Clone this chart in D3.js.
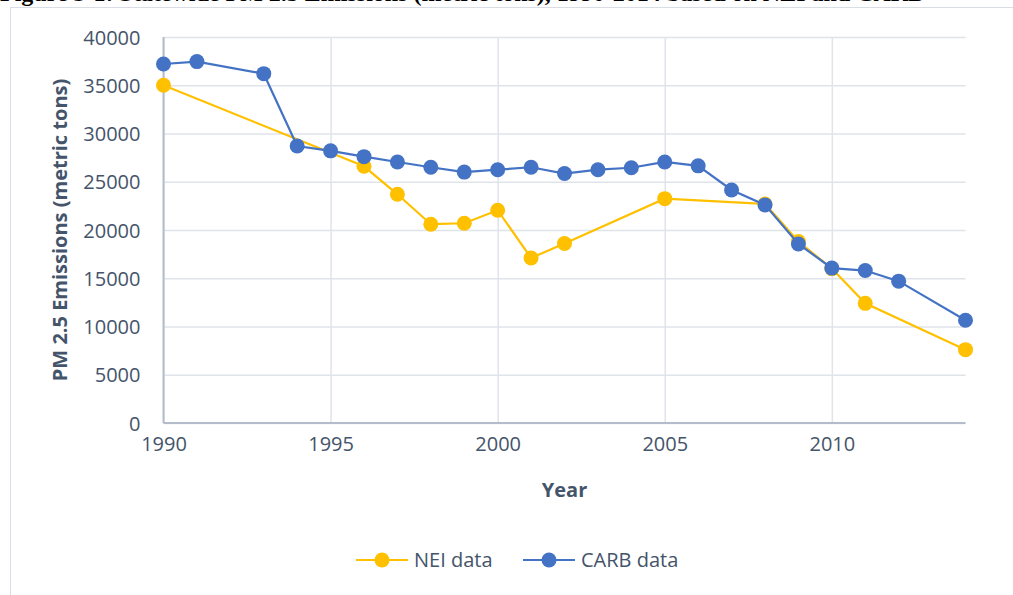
<!DOCTYPE html>
<html>
<head>
<meta charset="utf-8">
<script src="https://cdn.jsdelivr.net/npm/d3@7"></script>
<style>
  body { margin: 0; background: #fff; }
  text { font-family: "Open Sans", sans-serif; fill: #44546a; }
</style>
</head>
<body>
<div id="chart_div"></div>
<script>
// NEI data points (years with no marker are simply not in the list)
var neiYears  = [1990, 1996, 1997, 1998, 1999, 2000, 2001, 2002, 2005, 2008, 2009, 2010, 2011, 2014];
var neiValues = [35000, 26600, 23700, 20600, 20700, 22050, 17100, 18600, 23250, 22700, 18800, 16000, 12400, 7600];

// CARB data points
var carbYears  = [1990, 1991, 1993, 1994, 1995, 1996, 1997, 1998, 1999, 2000, 2001, 2002, 2003, 2004, 2005, 2006, 2007, 2008, 2009, 2010, 2011, 2012, 2014];
var carbValues = [37200, 37450, 36200, 28700, 28200, 27600, 27050, 26500, 26000, 26250, 26500, 25850, 26250, 26450, 27050, 26650, 24150, 22600, 18550, 16050, 15800, 14700, 10650];

var yTicks = [0, 5000, 10000, 15000, 20000, 25000, 30000, 35000, 40000];
var xTicks = [1990, 1995, 2000, 2005, 2010];

var seriesList = [
	{'name':'NEI data', 'color':'#ffc000', 'years':neiYears, 'values':neiValues},
	{'name':'CARB data','color':'#4472c4', 'years':carbYears, 'values':carbValues}
];

var width = 1013, height = 595;
var svg = d3.select("#chart_div")
			.append("svg")
			.attr("width", width)
			.attr("height", height);

// caption of the document, cut off at the top of the picture (as in the source page)
svg.append("text")
	.attr("x", 0)
	.attr("y", 1)
	.style("font-family", "'Liberation Serif', serif")
	.style("font-weight", "bold")
	.style("font-size", "24px")
	.style("fill", "#000")
	.text("Figure 3-1: Statewide PM 2.5 Emissions (metric tons), 1990-2014 based on NEI and CARB");

// chart area border
svg.append("rect")
	.attr("x", 10.5)
	.attr("y", 7.5)
	.attr("width", 1100)
	.attr("height", 700)
	.style("fill", "#fff")
	.style("stroke", "#d9dee6");

var x = d3.scaleLinear().domain([1990, 2014]).range([163.5, 965.5]);
var y = d3.scaleLinear().domain([0, 40000]).range([423, 37]);

// horizontal gridlines + y labels
var yAxis = svg.append("g")
	.attr("transform", "translate(" + x(1990) + ",0)")
	.call(d3.axisLeft(y).tickValues(yTicks).tickSize(-(x(2014) - x(1990))).tickPadding(23).tickFormat(d3.format("d")));
yAxis.select(".domain").remove();
yAxis.selectAll(".tick line").style("stroke", "#dfe3ea").style("stroke-width", 1.5);
yAxis.selectAll(".tick text").style("font-size", "20px").style("fill", "#44546a").attr("dy", "0.35em");

// vertical gridlines + x labels
var xAxis = svg.append("g")
	.attr("transform", "translate(0," + y(0) + ")")
	.call(d3.axisBottom(x).tickValues(xTicks).tickSize(-(y(0) - y(40000))).tickPadding(14).tickFormat(d3.format("d")));
xAxis.select(".domain").remove();
xAxis.selectAll(".tick line").style("stroke", "#dfe3ea").style("stroke-width", 1.5);
xAxis.selectAll(".tick text").style("font-size", "20px").style("fill", "#44546a");

// axis lines
svg.append("line")
	.attr("x1", x(1990)).attr("x2", x(1990))
	.attr("y1", y(40000)).attr("y2", y(0))
	.style("stroke", "#b4bccb").style("stroke-width", 2);
svg.append("line")
	.attr("x1", x(1990)).attr("x2", x(2014))
	.attr("y1", y(0)).attr("y2", y(0))
	.style("stroke", "#b4bccb").style("stroke-width", 2);

// axis titles
svg.append("text")
	.attr("transform", "translate(67," + ((y(0) + y(40000)) / 2) + ") rotate(-90)")
	.attr("text-anchor", "middle")
	.style("font-size", "20px")
	.style("font-weight", "bold")
	.text("PM 2.5 Emissions (metric tons)");

svg.append("text")
	.attr("x", (x(1990) + x(2014)) / 2)
	.attr("y", 497)
	.attr("text-anchor", "middle")
	.style("font-size", "20px")
	.style("font-weight", "bold")
	.text("Year");

// series lines and markers
var line = d3.line()
	.x(function(d) { return x(d[0]); })
	.y(function(d) { return y(d[1]); });

seriesList.forEach(function(s) {
	var pts = s.years.map(function(yr, i) { return [yr, s.values[i]]; });
	var g = svg.append("g").attr("class", "series");
	g.append("path")
		.datum(pts)
		.attr("d", line)
		.style("fill", "none")
		.style("stroke", s.color)
		.style("stroke-width", 2.2);
	g.selectAll("circle")
		.data(pts)
		.enter()
		.append("circle")
		.attr("cx", function(d) { return x(d[0]); })
		.attr("cy", function(d) { return y(d[1]); })
		.attr("r", 7.5)
		.style("fill", s.color);
});

// legend
var legendX = [356, 523];
var legend = svg.selectAll('.legend')
	.data(seriesList)
	.enter()
	.append('g')
	.attr('class', 'legend')
	.attr('transform', function(d, i) { return 'translate(' + legendX[i] + ',560)'; });

legend.append('line')
	.attr('x1', 0).attr('x2', 52)
	.attr('y1', 0).attr('y2', 0)
	.style('stroke', function(d) { return d.color; })
	.style('stroke-width', 2.2);

legend.append('circle')
	.attr('cx', 26).attr('cy', 0).attr('r', 7.5)
	.style('fill', function(d) { return d.color; });

legend.append('text')
	.attr('x', 58)
	.attr('y', 0)
	.attr('dy', '0.35em')
	.style('font-size', '20px')
	.text(function(d) { return d.name; });
</script>
</body>
</html>
